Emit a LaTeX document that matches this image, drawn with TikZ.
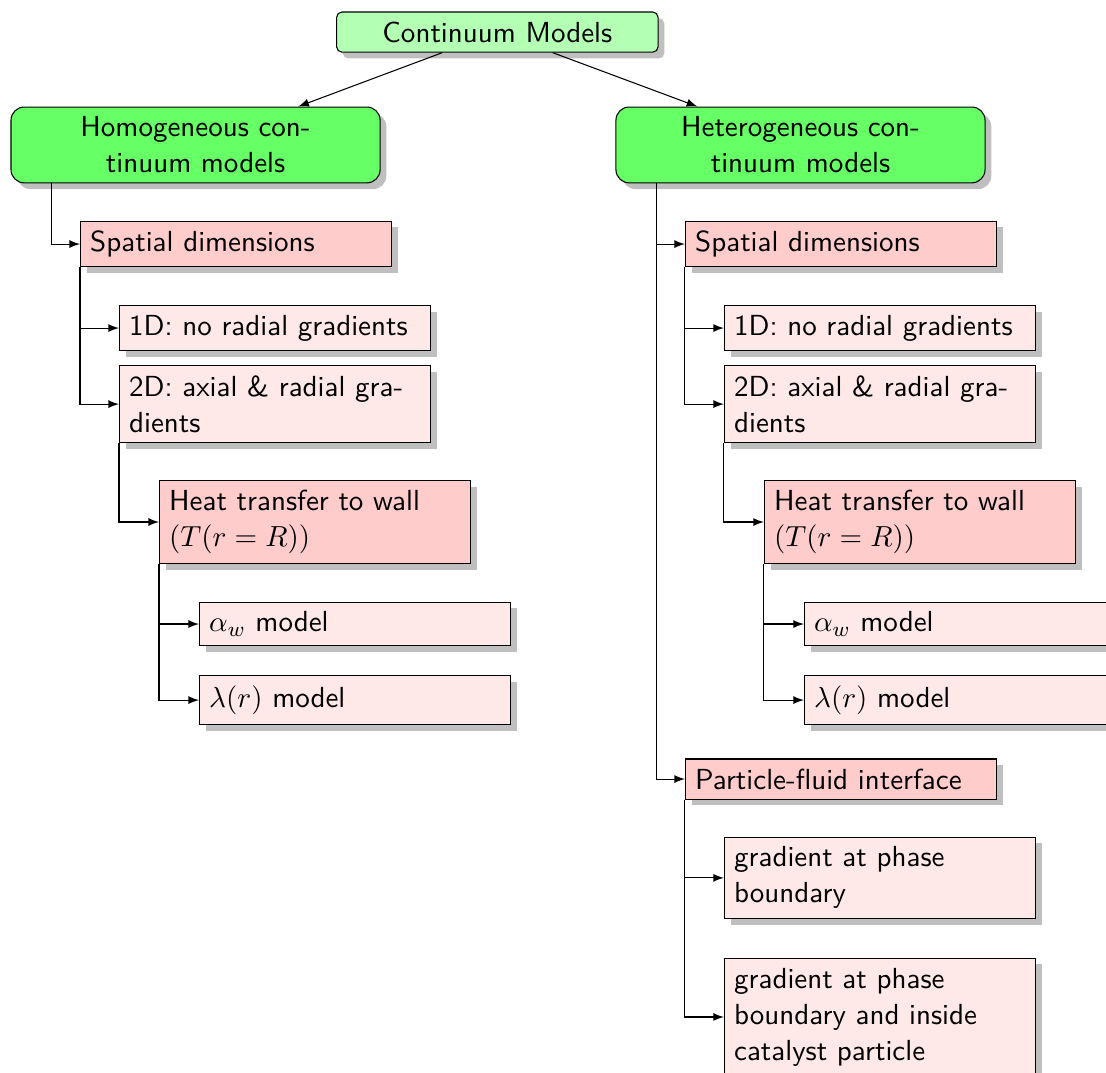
\documentclass[11pt,tikz,border=0pt]{standalone}
\usetikzlibrary{shadows}
\definecolor{rootcolor}{HTML}{b3ffb3}
\definecolor{groupcolor}{HTML}{66ff66}
\definecolor{aspectcolor}{HTML}{ffcccc}
\definecolor{optioncolor}{HTML}{ffe8e8}

\tikzset{
    rootbox/.style = {draw, rectangle, rounded corners = 2pt, fill = rootcolor, drop shadow, text width = 114pt, align = center, font = \sffamily},
    groupbox/.style = {draw, rectangle, rounded corners = 5pt, fill = groupcolor, drop shadow, text width = 132pt, align = center, font = \sffamily},
    aspectbox/.style = {draw, rectangle, fill = aspectcolor, drop shadow, text width = 110pt, align = left, anchor = west, font = \sffamily},
    optionbox/.style = {aspectbox, fill = optioncolor}
}

\begin{document}
\begin{tikzpicture}

        \useasboundingbox (0pt, 0pt) rectangle (417.4pt, -404.9pt);

        \node [rootbox] (root) at (187.7pt, -12.1pt) {Continuum Models};
        \node [groupbox] (homog) at (73.8pt, -54.7pt) {Homogeneous con-\\tinuum models};
        \node [groupbox] (heter) at (302.1pt, -54.7pt) {Heterogeneous con-\\tinuum models};

        % Homogeneous branch
        \node [aspectbox] (spat1) at (30.2pt, -92.1pt) {Spatial dimensions};
        \node [optionbox] (oned1) at (44.9pt, -123.8pt) {1D: no radial gradients};
        \node [optionbox] (twod1) at (44.9pt, -152.5pt) {2D: axial \& radial gra-\\dients};
        \node [aspectbox] (heat1) at (60.0pt, -197.0pt) {Heat transfer to wall\\$(T(r = R))$};
        \node [optionbox] (alpha1) at (75.1pt, -235.5pt) {$\alpha_w$ model};
        \node [optionbox] (lambda1) at (75.1pt, -264.2pt) {$\lambda(r)$ model};

        % Heterogeneous branch
        \node [aspectbox] (spat2) at (258.5pt, -92.1pt) {Spatial dimensions};
        \node [optionbox] (oned2) at (273.2pt, -123.8pt) {1D: no radial gradients};
        \node [optionbox] (twod2) at (273.2pt, -152.5pt) {2D: axial \& radial gra-\\dients};
        \node [aspectbox] (heat2) at (288.3pt, -197.0pt) {Heat transfer to wall\\$(T(r = R))$};
        \node [optionbox] (alpha2) at (303.4pt, -235.5pt) {$\alpha_w$ model};
        \node [optionbox] (lambda2) at (303.4pt, -264.2pt) {$\lambda(r)$ model};
        \node [aspectbox] (part2) at (258.5pt, -294.0pt) {Particle-fluid interface};
        \node [optionbox] (grad1) at (273.2pt, -331.3pt) {gradient at phase\\boundary};
        \node [optionbox] (grad2) at (273.2pt, -383.8pt) {gradient at phase\\boundary and inside\\catalyst particle};

        % Top level
        \draw [->, > = latex] (root) -- (homog);
        \draw [->, > = latex] (root) -- (heter);

        % Homogeneous connectors
        \draw [->, > = latex] (homog.south west) ++(15.5pt, 0pt) |- (spat1.west);
        \draw [->, > = latex] (spat1.south west) |- (oned1.west);
        \draw [->, > = latex] (spat1.south west) |- (twod1.west);
        \draw [->, > = latex] (twod1.south west) |- (heat1.west);
        \draw [->, > = latex] (heat1.south west) |- (alpha1.west);
        \draw [->, > = latex] (heat1.south west) |- (lambda1.west);

        % Heterogeneous connectors
        \draw [->, > = latex] (heter.south west) ++(15.5pt, 0pt) |- (spat2.west);
        \draw [->, > = latex] (heter.south west) ++(15.5pt, 0pt) |- (part2.west);
        \draw [->, > = latex] (spat2.south west) |- (oned2.west);
        \draw [->, > = latex] (spat2.south west) |- (twod2.west);
        \draw [->, > = latex] (twod2.south west) |- (heat2.west);
        \draw [->, > = latex] (heat2.south west) |- (alpha2.west);
        \draw [->, > = latex] (heat2.south west) |- (lambda2.west);
        \draw [->, > = latex] (part2.south west) |- (grad1.west);
        \draw [->, > = latex] (part2.south west) |- (grad2.west);

\end{tikzpicture}
\end{document}
